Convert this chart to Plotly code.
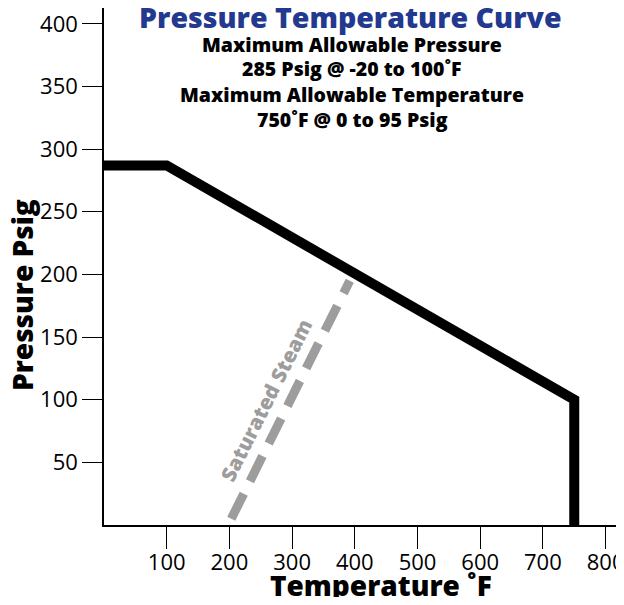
import plotly.graph_objects as go

# Data
limit_temp = [0, 100, 750, 750]
limit_press = [287, 287, 100, 0]
steam_temp = [203, 392]
steam_press = [5, 195]
x_ticks = [100, 200, 300, 400, 500, 600, 700, 800]
y_ticks = [50, 100, 150, 200, 250, 300, 350, 400]

OFF = 8  # page body margin
W, H = 624 - 2 * OFF, 605 - 2 * OFF
L, R, T, B = 104 - OFF, 0, 0, 72
PW, PH = W - L - R, H - T - B

def px(x):
    return (x - OFF - L) / PW

def py(y):
    return (H - B - (y - OFF)) / PH

fig = go.Figure()
fig.add_trace(go.Scatter(x=steam_temp, y=steam_press, mode="lines",
                         line=dict(color="#9d9d9d", width=9, dash="28px,14px"),
                         hoverinfo="skip", showlegend=False))
fig.add_trace(go.Scatter(x=limit_temp, y=limit_press, mode="lines",
                         line=dict(color="black", width=10),
                         hoverinfo="skip", showlegend=False))

bold = dict(family="Open Sans", weight=800)
anns = []
anns.append(dict(text="Pressure Temperature Curve", x=px(350), y=py(17),
                 font=dict(size=28.5, color="#22398f", **bold)))
for txt, yy in [("Maximum Allowable Pressure", 44), ("285 Psig @ -20 to 100˚F", 69),
                ("Maximum Allowable Temperature", 95), ("750˚F @ 0 to 95 Psig", 119)]:
    anns.append(dict(text=txt, x=px(352), y=py(yy), font=dict(size=19.5, color="black", **bold)))
anns.append(dict(text="Temperature ˚F", x=px(381), y=py(585),
                 font=dict(size=28, color="black", **bold)))
anns.append(dict(text="Pressure Psig", x=px(22), y=py(295), textangle=-90,
                 font=dict(size=28, color="black", **bold)))
anns.append(dict(text="Saturated Steam", x=px(266), y=py(400), textangle=-63.4,
                 font=dict(size=20.5, color="#9d9d9d", **bold)))
for a in anns:
    a.update(xref="paper", yref="paper", xanchor="center", yanchor="middle",
             showarrow=False)

fig.update_layout(
    width=W, height=H, margin=dict(l=L, r=R, t=T, b=B, autoexpand=False),
    paper_bgcolor="white", plot_bgcolor="white",
    annotations=anns,
    xaxis=dict(range=[0, PW / 0.627], tickvals=x_ticks, ticks="outside", ticklen=22,
               tickwidth=1.3, tickcolor="black", showline=True, linecolor="black",
               linewidth=1.5, showgrid=False, zeroline=False, automargin=False,
               ticklabelstandoff=-5, ticklabeloverflow="allow",
               tickfont=dict(family="Open Sans", size=22, color="black")),
    yaxis=dict(range=[0, PH / 1.253], tickvals=y_ticks, ticks="outside", ticklen=20,
               tickwidth=1.3, tickcolor="black", showline=True, linecolor="black",
               linewidth=1.5, showgrid=False, zeroline=False, automargin=False,
               ticklabeloverflow="allow",
               tickfont=dict(family="Open Sans", size=22, color="black")),
)
fig.write_html("out.html")
